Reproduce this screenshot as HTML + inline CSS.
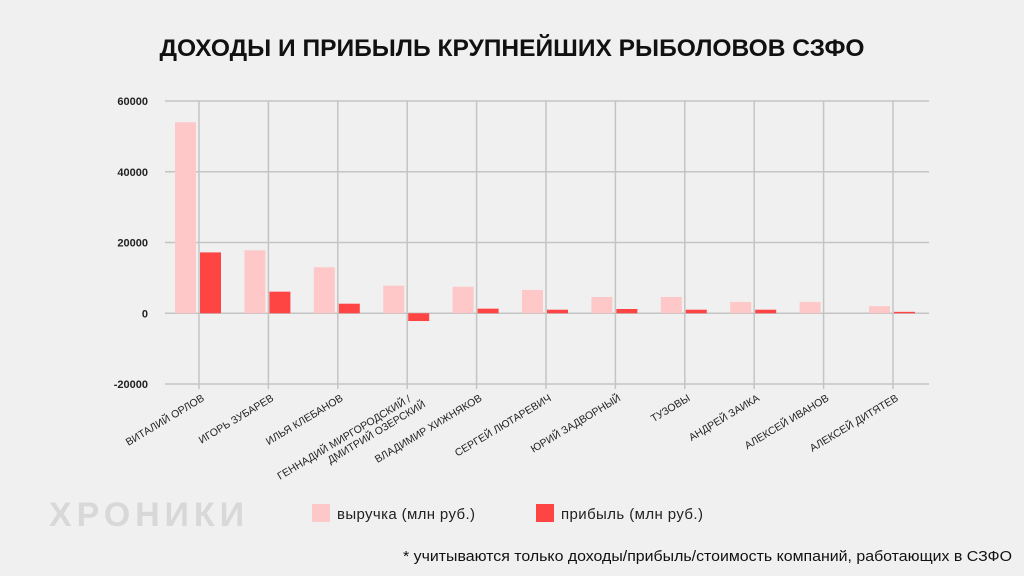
<!DOCTYPE html>
<html><head><meta charset="utf-8"><style>
body{margin:0;background:#f0f0f0;font-family:"Liberation Sans","DejaVu Sans",sans-serif;}
#wrap{position:relative;width:1024px;height:576px;overflow:hidden;background:#f0f0f0;}
</style></head><body>
<div id="wrap">
<svg id="svg" width="1024" height="576">
<text x="512" y="56" text-anchor="middle" font-size="24" font-weight="bold" fill="#111" textLength="705" lengthAdjust="spacingAndGlyphs">ДОХОДЫ И ПРИБЫЛЬ КРУПНЕЙШИХ РЫБОЛОВОВ СЗФО</text>
<text x="49" y="526" font-size="34" font-weight="bold" fill="#d8d8d8" letter-spacing="5" textLength="200">ХРОНИКИ</text>
<rect x="312" y="504" width="18" height="18" fill="#ffc8c8"></rect>
<text x="337" y="519" font-size="15" fill="#222" textLength="138">выручка (млн руб.)</text>
<rect x="536" y="504" width="18" height="18" fill="#ff4444"></rect>
<text x="561" y="519" font-size="15" fill="#222" textLength="142">прибыль (млн руб.)</text>
<text x="403" y="561" font-size="15" fill="#111" textLength="609" lengthAdjust="spacingAndGlyphs">* учитываются только доходы/прибыль/стоимость компаний, работающих в СЗФО</text>
<g id="plot"></g>
</svg>
</div>
<script>
const categories=["ВИТАЛИЙ ОРЛОВ","ИГОРЬ ЗУБАРЕВ","ИЛЬЯ КЛЕБАНОВ","ГЕННАДИЙ МИРГОРОДСКИЙ /|ДМИТРИЙ ОЗЕРСКИЙ","ВЛАДИМИР ХИЖНЯКОВ","СЕРГЕЙ ЛЮТАРЕВИЧ","ЮРИЙ ЗАДВОРНЫЙ","ТУЗОВЫ","АНДРЕЙ ЗАИКА","АЛЕКСЕЙ ИВАНОВ","АЛЕКСЕЙ ДИТЯТЕВ"];
const revenue=[54000,17800,13000,7800,7500,6600,4600,4600,3200,3200,2000];
const profit=[17200,6100,2700,-2200,1300,1000,1200,1000,1000,0,400];
const yTicks=[60000,40000,20000,0,-20000];
const NS="http://www.w3.org/2000/svg";
const g=document.getElementById('plot');
const yMin=-20000,yMax=60000,pyTop=101,pyBot=384,pxL=165,pxR=929;
function y(v){return pyBot-(v-yMin)/(yMax-yMin)*(pyBot-pyTop);}
const step=69.4,x0=199;
function x(i){return x0+i*step;}
function mk(t,a){const e=document.createElementNS(NS,t);for(const k in a)e.setAttribute(k,a[k]);g.appendChild(e);return e;}
yTicks.forEach((t,i)=>{
 const l=mk('line',{x1:pxL,x2:pxR,y1:y(t),y2:y(t),stroke:'#c4c4c4','stroke-width':1.5});
 
 
 const tx=mk('text',{x:148,y:y(t)+4,'text-anchor':'end','font-size':11,'font-weight':'bold',fill:'#222'});
 tx.textContent=t;
 
 
});
categories.forEach((c,i)=>{
 const l=mk('line',{x1:x(i),x2:x(i),y1:pyTop,y2:pyBot+5,stroke:'#c4c4c4','stroke-width':1.5});
 
 
});
categories.forEach((c,i)=>{
 const r=revenue[i];
 const b=mk('rect',{x:x(i)-24,width:21,y:Math.min(y(r),y(0)),height:Math.abs(y(r)-y(0)),fill:'#ffc8c8'});
 
 
 const p=profit[i];
 const b2=mk('rect',{x:x(i)+1,width:21,y:Math.min(y(p),y(0)),height:Math.max(Math.abs(y(p)-y(0)),p?1:0),fill:'#ff4444'});
 
 
 const lines=c.split('|');
 const t=mk('text',{transform:`translate(${x(i)+6},${pyBot+16}) rotate(-31)`,'text-anchor':'end','font-size':10.5,fill:'#222'});
 
 
 lines.forEach((ln,k)=>{const s=document.createElementNS(NS,'tspan');s.setAttribute('x',lines.length>1&&k==0?-2:(lines.length>1?8:0));s.setAttribute('y',(k-(lines.length-1))*12+(lines.length>1?12:0));s.textContent=ln;t.appendChild(s);});
});
</script>
</body></html>
